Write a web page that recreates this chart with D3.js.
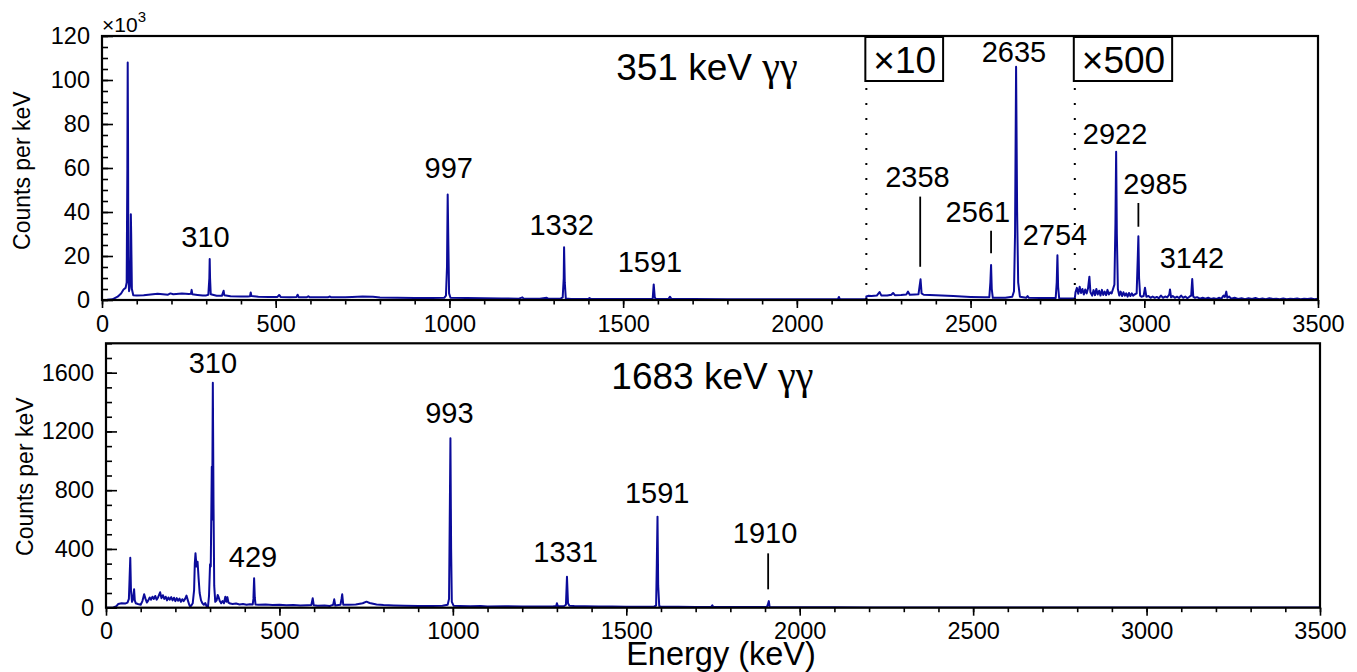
<!DOCTYPE html>
<html>
<head>
<meta charset="utf-8">
<script src="https://cdn.jsdelivr.net/npm/d3@7"></script>
<style>
  html, body { margin: 0; padding: 0; background: #fff; }
  svg { display: block; font-family: "Liberation Sans", Arial, Helvetica, sans-serif; }
</style>
</head>
<body>
<svg id="chart" width="1357" height="672"></svg>
<script>
// ---- DATA ----
// 351 keV gate, counts per keV, [energy keV, counts]
// 0-2200 keV shown as is
const topLowCounts = [
  [0,0],[15,100],[30,300],[45,1500],[55,3000],[62,4800],[68,5500],[71,8000],[73,60000],[74,108000],
  [75,70000],[76,10000],[78,4000],[80,6000],[82,20000],[83,39000],[84,30000],[86,5000],[90,2200],
  [100,2000],[120,2200],[140,2500],[160,2800],[175,2600],[190,2400],[197,3000],[205,2600],[230,2900],
  [250,2700],[256,2800],[258,4600],[260,2600],[275,2300],[290,2000],[300,2100],[306,2400],[309,10000],
  [310,18600],[311,10000],[313,2600],[330,1900],[345,1900],[350,4200],[352,2200],[370,1700],[400,1600],
  [420,1600],[426,1700],[428,3400],[430,1800],[450,1500],[480,1400],[505,1400],[510,2300],[514,1400],
  [540,1300],[560,1400],[563,2400],[566,1300],[590,1300],[594,1700],[598,1200],[650,1200],[656,1600],
  [660,1200],[680,1300],[700,1200],[720,1400],[750,1600],[780,1500],[800,1100],[850,1000],[900,900],
  [950,900],[985,1000],[990,2000],[993,15000],[995,48000],[997,25000],[999,3000],[1003,1000],[1050,900],
  [1100,800],[1150,700],[1200,600],[1210,1200],[1214,600],[1260,600],[1280,1000],[1284,600],[1320,600],
  [1326,1200],[1329,10000],[1330,24000],[1332,8000],[1335,700],[1350,500],[1400,500],[1403,900],
  [1407,500],[1450,400],[1500,400],[1550,400],[1585,500],[1588,7100],[1591,1200],[1594,400],[1630,400],
  [1635,1500],[1639,400],[1700,400],[1800,350],[1900,300],[2000,300],[2100,300],[2118,300],[2121,1400],
  [2124,300],[2200,300]
];
// 2200-2800 keV, drawn x10
const topMidCounts = [
  [2200,160],[2205,190],[2215,180],[2230,200],[2238,360],[2243,210],[2260,200],[2272,240],[2277,320],
  [2282,220],[2300,230],[2315,250],[2320,380],[2325,240],[2340,250],[2350,260],[2353,600],[2356,940],
  [2359,300],[2365,240],[2400,220],[2450,180],[2500,140],[2540,120],[2554,130],[2557,800],[2559,1590],
  [2561,500],[2564,100],[2600,100],[2620,150],[2625,400],[2628,3000],[2631,10600],[2634,4000],[2637,800],
  [2642,150],[2660,100],[2664,180],[2668,100],[2700,90],[2745,90],[2748,800],[2750,2030],[2752,600],
  [2755,80],[2800,70]
];
// 2800-3500 keV, drawn x500
const topHighCounts = [
  [2800,1.2],[2802,7],[2806,11],[2810,5.6],[2814,12],[2818,6.4],[2822,10],[2826,5],[2830,9.6],[2834,6],
  [2838,10.4],[2842,21.2],[2845,7],[2850,4],[2854,9],[2858,4.4],[2862,10],[2866,5],[2870,8.4],[2874,4],
  [2878,9.2],[2882,4.6],[2886,7.6],[2890,4.4],[2894,9.2],[2898,5],[2902,7],[2906,6],[2910,10],[2914,14],
  [2917,70],[2919,134.8],[2921,60],[2924,10],[2928,4],[2932,7.6],[2936,3.6],[2940,7],[2944,4],[2948,6],
  [2952,3],[2956,6.4],[2960,3.6],[2964,6],[2968,4],[2972,5],[2978,6],[2981,36],[2983,58],[2985,20],
  [2988,4],[2992,3],[2998,3.6],[3002,11.2],[3006,3],[3012,3.6],[3018,2],[3024,3.2],[3030,2],[3036,2.8],
  [3042,1.6],[3048,4],[3054,2],[3060,3.2],[3066,2.4],[3072,5],[3074,9.6],[3077,2.4],[3082,3.6],[3088,2],
  [3094,3],[3100,1.8],[3106,4],[3112,2],[3118,3.2],[3124,1.6],[3130,3],[3135,4],[3138,19],[3141,3],
  [3146,2],[3152,2.6],[3160,1.2],[3168,2],[3176,1.2],[3184,2],[3192,1],[3200,1.6],[3208,1],[3216,2],
  [3222,1.2],[3228,4],[3232,2.8],[3236,7.6],[3239,2],[3244,3.2],[3250,1.2],[3260,2],[3270,1],[3280,1.6],
  [3290,0.8],[3300,1.6],[3310,1],[3320,1.8],[3330,0.8],[3340,1.4],[3350,0.8],[3360,1.6],[3370,1],
  [3380,1.2],[3390,0.8],[3400,1.4],[3410,0.8],[3420,1.2],[3430,1],[3440,1.4],[3450,0.8],[3460,1.2],
  [3470,1],[3480,1.4],[3490,0.8],[3500,1.2]
];
const topScaleRegions = [
  { from: 2200, to: 2800, factor: 10 },
  { from: 2800, to: 3500, factor: 500 }
];

// 1683 keV gate, [energy keV, counts]
const bottomCounts = [
  [0,0],[20,0],[30,10],[35,25],[45,30],[55,28],[62,35],[66,60],[68,200],[70,340],[72,120],[75,40],
  [78,60],[81,125],[83,50],[86,30],[92,25],[100,20],[105,45],[110,91],[114,60],[118,35],[122,50],
  [126,70],[130,55],[134,75],[138,60],[142,80],[146,55],[150,70],[156,105],[160,65],[164,85],[168,60],
  [172,75],[176,50],[180,70],[184,55],[188,72],[192,50],[196,68],[200,45],[204,65],[208,48],[212,62],
  [216,40],[220,58],[224,45],[228,60],[232,82],[236,50],[240,20],[243,7],[246,15],[250,30],[254,120],
  [256,300],[258,370],[261,280],[264,313],[267,200],[270,100],[274,50],[278,30],[282,20],[286,32],
  [290,10],[294,5],[297,80],[300,295],[302,280],[305,960],[306,600],[308,1532],[310,700],[312,150],
  [315,40],[319,50],[322,87],[325,70],[328,45],[332,30],[336,45],[340,30],[344,75],[347,40],[350,72],
  [353,35],[358,28],[365,25],[375,28],[385,22],[395,25],[405,20],[415,24],[423,22],[425,60],[427,200],
  [429,70],[431,22],[440,20],[460,22],[480,18],[500,20],[520,16],[540,18],[560,15],[580,17],[592,18],
  [596,64],[599,16],[610,14],[630,15],[645,12],[650,16],[655,20],[658,57],[661,15],[670,18],[676,20],
  [679,60],[681,91],[684,20],[700,20],[720,22],[740,30],[751,41],[760,32],[780,22],[800,18],[830,15],
  [860,13],[900,12],[940,12],[970,14],[985,20],[989,60],[991,600],[993,1153],[995,400],[997,40],
  [1002,14],[1020,12],[1050,10],[1080,12],[1100,9],[1150,10],[1200,9],[1250,8],[1290,10],[1298,12],
  [1300,30],[1303,10],[1320,10],[1326,20],[1329,211],[1332,30],[1336,14],[1350,12],[1380,10],[1420,8],
  [1460,8],[1500,7],[1550,7],[1580,8],[1586,15],[1588,300],[1590,620],[1592,150],[1595,10],[1600,7],
  [1650,6],[1700,5],[1745,6],[1748,16],[1751,5],[1800,4],[1850,4],[1905,4],[1908,20],[1911,45],
  [1913,8],[1916,3],[1950,3],[2000,3],[2100,3],[2200,2],[2300,2],[2500,2],[2700,2],[3000,1],[3200,1],
  [3500,1]
];

// peak labels: [text, energy, y in axis units]
const topLabels = [
  ["310", 298, 24000], ["997", 998, 55300], ["1332", 1323, 29500], ["1591", 1577, 12900],
  ["2358", 2347, 51500], ["2561", 2521, 35600], ["2635", 2625, 108300], ["2754", 2743, 25000],
  ["2922", 2916, 70900], ["2985", 3032, 48200], ["3142", 3137, 14500]
];
const topMarkers = [[2355, 47000, 15100], [2559, 31500, 21200], [2983, 44100, 33300]];
const bottomLabels = [
  ["310", 308, 1596], ["429", 424, 279], ["993", 990, 1259],
  ["1331", 1325, 313], ["1591", 1589, 715], ["1910", 1900, 438]
];
const bottomMarkers = [[1909, 370, 125]];

const topTitle = { text: "351 keV", energy: 1480, y: 100000 };
const bottomTitle = { text: "1683 keV", energy: 1457, y: 1487 };

const xMajorTicks = d3.range(0, 3501, 500);
const xMinorTicks = d3.range(0, 3501, 100);
const topYMajor = d3.range(0, 120001, 20000);
const topYMinor = d3.range(0, 120001, 5000);
const bottomYMajor = d3.range(0, 1601, 400);
const bottomYMinor = d3.range(0, 1801, 100);

// ---- LAYOUT ----
const svg = d3.select("#chart");
const lineColor = "#0b0b9a";
const fontSans = "'Liberation Sans', Arial, Helvetica, sans-serif";
const tickFont = "23.5px";

const topBox = { left: 102, right: 1318, top: 36, bottom: 300 };
const botBox = { left: 106, right: 1320, top: 343.3, bottom: 607.7 };

const xTop = d3.scaleLinear().domain([0, 3500]).range([topBox.left, topBox.right]);
const yTop = d3.scaleLinear().domain([0, 120000]).range([topBox.bottom, topBox.top]);
const xBot = d3.scaleLinear().domain([0, 3500]).range([botBox.left, botBox.right]);
const yBot = d3.scaleLinear().domain([0, 1800]).range([botBox.bottom, botBox.top]);

function drawAxes(box, x, y, yMajor, yMinor, yFormat) {
  // x ticks point outward, y ticks inward
  const gxMinor = svg.append("g")
    .attr("transform", `translate(0,${box.bottom})`)
    .call(d3.axisBottom(x).tickValues(xMinorTicks).tickSize(4.5).tickFormat(""));
  const gxMajor = svg.append("g")
    .attr("transform", `translate(0,${box.bottom})`)
    .call(d3.axisBottom(x).tickValues(xMajorTicks).tickSize(8).tickPadding(7).tickFormat(d3.format("d")));
  const gyMinor = svg.append("g")
    .attr("transform", `translate(${box.left},0)`)
    .call(d3.axisLeft(y).tickValues(yMinor).tickSize(-6).tickFormat(""));
  const gyMajor = svg.append("g")
    .attr("transform", `translate(${box.left},0)`)
    .call(d3.axisLeft(y).tickValues(yMajor).tickSize(-11).tickPadding(12).tickFormat(yFormat));

  [gxMinor, gxMajor, gyMinor, gyMajor].forEach(g => {
    g.select(".domain").remove();
    g.selectAll(".tick line").attr("stroke", "#000").attr("stroke-width", 1.6);
    g.selectAll("text")
      .attr("fill", "#000")
      .style("font-family", fontSans)
      .style("font-size", tickFont);
  });
}

function drawFrame(box) {
  svg.append("rect")
    .attr("x", box.left)
    .attr("y", box.top)
    .attr("width", box.right - box.left)
    .attr("height", box.bottom - box.top)
    .attr("fill", "none")
    .attr("stroke", "#000")
    .attr("stroke-width", 2.2);
}

function drawSpectrum(points, x, y, clipId) {
  const line = d3.line().x(d => x(d[0])).y(d => y(d[1]));
  svg.append("path")
    .datum(points)
    .attr("d", line)
    .attr("fill", "none")
    .attr("stroke", lineColor)
    .attr("stroke-width", 2)
    .attr("stroke-linejoin", "round")
    .attr("clip-path", `url(#${clipId})`);
}

function drawLabels(labels, markers, x, y) {
  svg.append("g").selectAll("text")
    .data(labels)
    .join("text")
    .attr("x", d => x(d[1]))
    .attr("y", d => y(d[2]))
    .attr("text-anchor", "middle")
    .style("font-family", fontSans)
    .style("font-size", "29px")
    .text(d => d[0]);

  svg.append("g").selectAll("line")
    .data(markers)
    .join("line")
    .attr("x1", d => x(d[0])).attr("x2", d => x(d[0]))
    .attr("y1", d => y(d[1])).attr("y2", d => y(d[2]))
    .attr("stroke", "#000")
    .attr("stroke-width", 1.8);
}

function drawTitle(t, x, y) {
  const txt = svg.append("text")
    .attr("x", x(t.energy))
    .attr("y", y(t.y))
    .style("font-family", fontSans)
    .style("font-size", "37px")
    .text(t.text + " ");
  txt.append("tspan")
    .style("font-family", "'Liberation Serif', 'DejaVu Serif', serif")
    .style("font-size", "40px")
    .text("γγ");
}

// clip paths
const defs = svg.append("defs");
[["clipTop", topBox], ["clipBot", botBox]].forEach(([id, b]) => {
  defs.append("clipPath").attr("id", id)
    .append("rect")
    .attr("x", b.left).attr("y", b.top)
    .attr("width", b.right - b.left).attr("height", b.bottom - b.top);
});

// ---- TOP PANEL ----
const topSegments = [
  { factor: 1, data: topLowCounts },
  { factor: topScaleRegions[0].factor, data: topMidCounts },
  { factor: topScaleRegions[1].factor, data: topHighCounts }
];
const topDisplay = topSegments.flatMap(s => s.data.map(d => [d[0], d[1] * s.factor]));

drawSpectrum(topDisplay, xTop, yTop, "clipTop");
drawAxes(topBox, xTop, yTop, topYMajor, topYMinor, d => d / 1000);
drawFrame(topBox);

// x10^3 multiplier
const mult = svg.append("text")
  .attr("x", topBox.left)
  .attr("y", 31.5)
  .style("font-family", fontSans)
  .style("font-size", "21px")
  .text("×10");
mult.append("tspan").attr("dy", -10).style("font-size", "15px").text("3");

// scaled-region markers and boxes
topScaleRegions.forEach(r => {
  const x0 = xTop(r.from);
  const label = svg.append("text")
    .attr("x", x0 + 7)
    .attr("y", 72.5)
    .style("font-family", fontSans)
    .style("font-size", "37px")
    .text("×" + r.factor);
  const w = label.node().getComputedTextLength();
  svg.append("rect")
    .attr("x", x0 - 1)
    .attr("y", 37)
    .attr("width", w + 15)
    .attr("height", 44)
    .attr("fill", "none")
    .attr("stroke", "#000")
    .attr("stroke-width", 2);
  svg.append("line")
    .attr("x1", x0).attr("x2", x0)
    .attr("y1", 88).attr("y2", topBox.bottom)
    .attr("stroke", "#000")
    .attr("stroke-width", 2)
    .attr("stroke-dasharray", "2 13");
});

drawLabels(topLabels, topMarkers, xTop, yTop);
drawTitle(topTitle, xTop, yTop);

// ---- BOTTOM PANEL ----
drawSpectrum(bottomCounts, xBot, yBot, "clipBot");
drawAxes(botBox, xBot, yBot, bottomYMajor, bottomYMinor, d3.format("d"));
drawFrame(botBox);
drawLabels(bottomLabels, bottomMarkers, xBot, yBot);
drawTitle(bottomTitle, xBot, yBot);

// ---- AXIS TITLES ----
[[30, 170.7], [33, 476.7]].forEach(([bx, cy]) => {
  svg.append("text")
    .attr("transform", `translate(${bx},${cy}) rotate(-90)`)
    .attr("text-anchor", "middle")
    .style("font-family", fontSans)
    .style("font-size", "23px")
    .text("Counts per keV");
});

svg.append("text")
  .attr("x", 721)
  .attr("y", 665)
  .attr("text-anchor", "middle")
  .style("font-family", fontSans)
  .style("font-size", "32.5px")
  .text("Energy (keV)");
</script>
</body>
</html>
